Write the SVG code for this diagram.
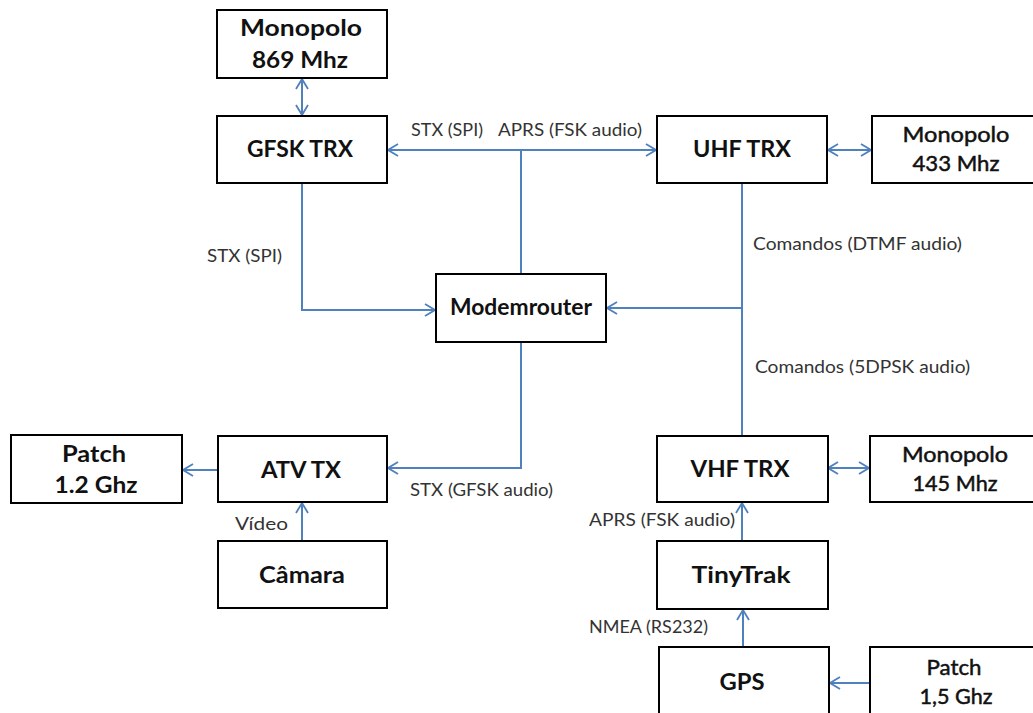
<svg xmlns="http://www.w3.org/2000/svg" width="1033" height="713" viewBox="0 0 1033 713">
<style>
.box{fill:#fff;stroke:#000;stroke-width:2}
.nt{font-family:Lato,"Liberation Sans",sans-serif;font-weight:bold;font-size:22px;fill:#111;text-anchor:middle}
.nr{font-family:Lato,"Liberation Sans",sans-serif;font-weight:normal;font-size:22px;fill:#111;stroke:#111;stroke-width:0.5;text-anchor:middle}
.lb{font-family:Lato,"Liberation Sans",sans-serif;font-size:17px;fill:#333}
.cn{fill:none;stroke:#4F81BD;stroke-width:2}
</style>
<defs>
<marker id="ar" viewBox="0 0 12 14" refX="11" refY="7" markerWidth="12" markerHeight="14" markerUnits="userSpaceOnUse" orient="auto-start-reverse">
<path d="M1,1 L11,7 L1,13" fill="none" stroke="#4F81BD" stroke-width="1.8"/>
</marker>
</defs>
<rect width="1033" height="713" fill="#fff"/>
<g id="connectors">
<line class="cn" x1="302" y1="79" x2="302" y2="115" marker-start="url(#ar)" marker-end="url(#ar)"/>
<line class="cn" x1="388" y1="150" x2="656" y2="150" marker-start="url(#ar)" marker-end="url(#ar)"/>
<line class="cn" x1="521" y1="150" x2="521" y2="274"/>
<line class="cn" x1="828" y1="150" x2="871" y2="150" marker-start="url(#ar)" marker-end="url(#ar)"/>
<polyline class="cn" points="302,183 302,310 435,310" marker-end="url(#ar)"/>
<line class="cn" x1="742" y1="183" x2="742" y2="436"/>
<line class="cn" x1="742" y1="308" x2="607" y2="308" marker-end="url(#ar)"/>
<polyline class="cn" points="521,342 521,468 388,468" marker-end="url(#ar)"/>
<line class="cn" x1="218" y1="470" x2="183" y2="470" marker-end="url(#ar)"/>
<line class="cn" x1="302" y1="541" x2="302" y2="503" marker-end="url(#ar)"/>
<line class="cn" x1="828" y1="468" x2="869" y2="468" marker-start="url(#ar)" marker-end="url(#ar)"/>
<line class="cn" x1="742" y1="541" x2="742" y2="503" marker-end="url(#ar)"/>
<line class="cn" x1="743" y1="647" x2="743" y2="610" marker-end="url(#ar)"/>
<line class="cn" x1="870" y1="683" x2="830" y2="683" marker-end="url(#ar)"/>
</g>
<g id="labels">
<text class="lb" x="411" y="136" textLength="72" lengthAdjust="spacingAndGlyphs">STX (SPI)</text>
<text class="lb" x="498" y="136" textLength="144" lengthAdjust="spacingAndGlyphs">APRS (FSK audio)</text>
<text class="lb" x="207" y="262" textLength="75" lengthAdjust="spacingAndGlyphs">STX (SPI)</text>
<text class="lb" x="753" y="250" textLength="209" lengthAdjust="spacingAndGlyphs">Comandos (DTMF audio)</text>
<text class="lb" x="755" y="373" textLength="215" lengthAdjust="spacingAndGlyphs">Comandos (5DPSK audio)</text>
<text class="lb" x="410" y="496" textLength="143" lengthAdjust="spacingAndGlyphs">STX (GFSK audio)</text>
<text class="lb" x="235" y="530" textLength="53" lengthAdjust="spacingAndGlyphs">Vídeo</text>
<text class="lb" x="589" y="526" textLength="146" lengthAdjust="spacingAndGlyphs">APRS (FSK audio)</text>
<text class="lb" x="589" y="633" textLength="119" lengthAdjust="spacingAndGlyphs">NMEA (RS232)</text>
</g>
<g id="mono869"><rect class="box" x="217" y="10" width="170" height="68"/><text class="nt" x="301" y="36" textLength="122" lengthAdjust="spacingAndGlyphs">Monopolo</text><text class="nt" x="300" y="68" textLength="96" lengthAdjust="spacingAndGlyphs">869 Mhz</text></g>
<g id="gfsk"><rect class="box" x="217" y="116" width="170" height="67"/><text class="nt" x="300" y="157" textLength="106" lengthAdjust="spacingAndGlyphs">GFSK TRX</text></g>
<g id="uhf"><rect class="box" x="657" y="116" width="170" height="67"/><text class="nt" x="742" y="157" textLength="98" lengthAdjust="spacingAndGlyphs">UHF TRX</text></g>
<g id="mono433"><rect class="box" x="872" y="116" width="170" height="67"/><text class="nr" x="956" y="142" textLength="107" lengthAdjust="spacingAndGlyphs">Monopolo</text><text class="nr" x="956" y="171" textLength="87" lengthAdjust="spacingAndGlyphs">433 Mhz</text></g>
<g id="modem"><rect class="box" x="436" y="274" width="170" height="68"/><text class="nt" x="521" y="315" textLength="142" lengthAdjust="spacingAndGlyphs">Modemrouter</text></g>
<g id="patch12"><rect class="box" x="11" y="435" width="171" height="68"/><text class="nt" x="94" y="462" textLength="64" lengthAdjust="spacingAndGlyphs">Patch</text><text class="nt" x="96" y="493" textLength="83" lengthAdjust="spacingAndGlyphs">1.2 Ghz</text></g>
<g id="atv"><rect class="box" x="218" y="436" width="169" height="66"/><text class="nt" x="301" y="478" textLength="80" lengthAdjust="spacingAndGlyphs">ATV TX</text></g>
<g id="camara"><rect class="box" x="218" y="541" width="169" height="67"/><text class="nt" x="302" y="583" textLength="86" lengthAdjust="spacingAndGlyphs">Câmara</text></g>
<g id="vhf"><rect class="box" x="657" y="436" width="171" height="66"/><text class="nt" x="740" y="477" textLength="99" lengthAdjust="spacingAndGlyphs">VHF TRX</text></g>
<g id="mono145"><rect class="box" x="870" y="436" width="172" height="66"/><text class="nr" x="955" y="462" textLength="106" lengthAdjust="spacingAndGlyphs">Monopolo</text><text class="nr" x="955" y="491" textLength="85" lengthAdjust="spacingAndGlyphs">145 Mhz</text></g>
<g id="tinytrak"><rect class="box" x="657" y="541" width="171" height="68"/><text class="nt" x="741" y="583" textLength="99" lengthAdjust="spacingAndGlyphs">TinyTrak</text></g>
<g id="gps"><rect class="box" x="659" y="647" width="170" height="80"/><text class="nt" x="742" y="690" textLength="45" lengthAdjust="spacingAndGlyphs">GPS</text></g>
<g id="patch15"><rect class="box" x="870" y="647" width="172" height="80"/><text class="nr" x="954" y="675" textLength="55" lengthAdjust="spacingAndGlyphs">Patch</text><text class="nr" x="956" y="704" textLength="73" lengthAdjust="spacingAndGlyphs">1,5 Ghz</text></g>
</svg>
